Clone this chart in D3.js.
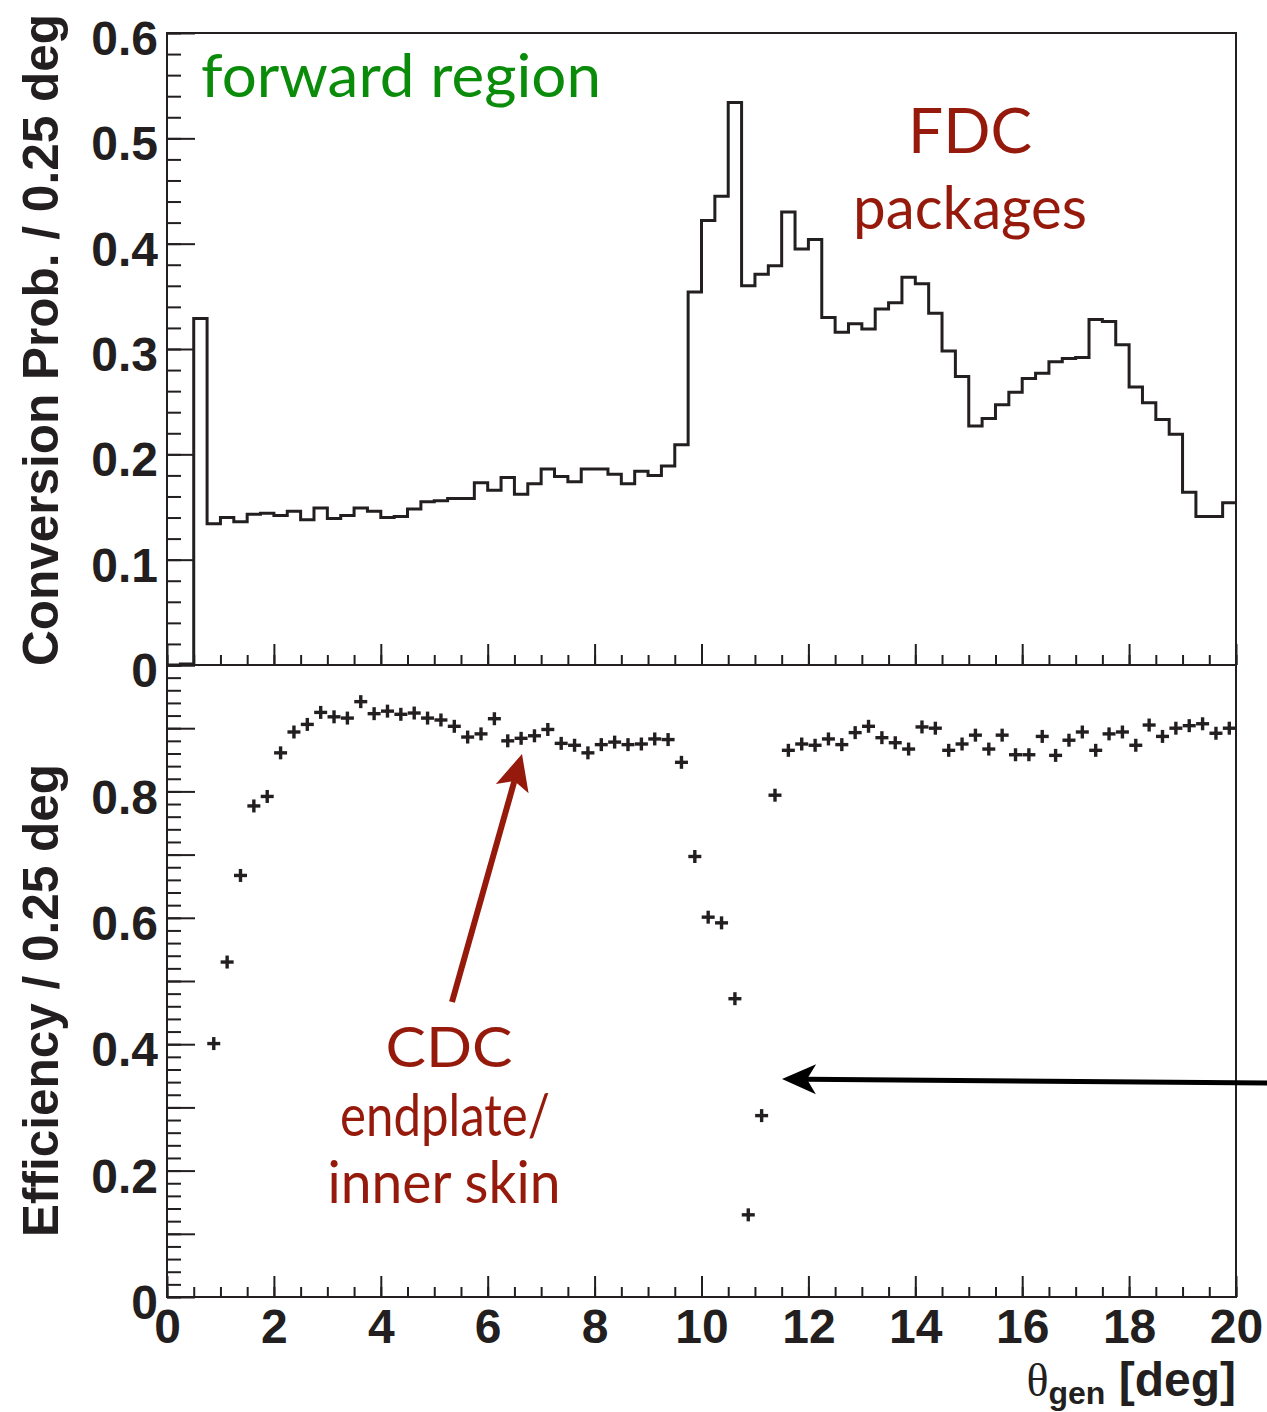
<!DOCTYPE html>
<html><head><meta charset="utf-8">
<script src="https://cdn.jsdelivr.net/npm/d3@7"></script>
<style>body{margin:0;background:#fff}</style>
</head><body>
<svg id="chart" width="1267" height="1412"></svg>
<script>
// ---- data (bin width 0.25 deg, 80 bins from 0 to 20) ----
const binEdges0 = 0, binWidth = 0.25;
const convProb = [
  0.000, 0.001, 0.329, 0.134, 0.140, 0.136, 0.143, 0.144,
  0.142, 0.146, 0.138, 0.149, 0.139, 0.142, 0.149, 0.146,
  0.140, 0.141, 0.148, 0.155, 0.156, 0.158, 0.158, 0.173,
  0.166, 0.178, 0.162, 0.172, 0.186, 0.179, 0.174, 0.186,
  0.186, 0.181, 0.172, 0.184, 0.180, 0.189, 0.209, 0.354,
  0.422, 0.445, 0.534, 0.360, 0.371, 0.379, 0.430, 0.395,
  0.404, 0.330, 0.316, 0.324, 0.319, 0.338, 0.344, 0.368,
  0.362, 0.334, 0.298, 0.274, 0.227, 0.234, 0.247, 0.259,
  0.272, 0.277, 0.288, 0.291, 0.292, 0.328, 0.326, 0.304,
  0.264, 0.249, 0.233, 0.219, 0.164, 0.141, 0.141, 0.154
];
const efficiency = [
  null, null, null, 0.401, 0.530, 0.667, 0.777, 0.792,
  0.861, 0.894, 0.906, 0.925, 0.918, 0.916, 0.942, 0.923,
  0.927, 0.922, 0.924, 0.916, 0.913, 0.903, 0.886, 0.891,
  0.915, 0.880, 0.884, 0.888, 0.898, 0.876, 0.873, 0.861,
  0.874, 0.878, 0.874, 0.875, 0.883, 0.882, 0.846, 0.697,
  0.601, 0.592, 0.472, 0.130, 0.287, 0.794, 0.865, 0.875,
  0.873, 0.883, 0.874, 0.893, 0.903, 0.885, 0.877, 0.867,
  0.902, 0.900, 0.865, 0.875, 0.889, 0.867, 0.889, 0.858,
  0.858, 0.887, 0.857, 0.881, 0.894, 0.865, 0.891, 0.894,
  0.873, 0.905, 0.887, 0.900, 0.904, 0.907, 0.892, 0.900
];
const xTickLabels = [0, 2, 4, 6, 8, 10, 12, 14, 16, 18, 20];
const topYTickLabels = [0, 0.1, 0.2, 0.3, 0.4, 0.5, 0.6];
const botYTickLabels = [0, 0.2, 0.4, 0.6, 0.8];

// ---- layout ----
const svg = d3.select("#chart");
const L = 167, R = 1236, T = 33, M = 665, B = 1297;
const x = d3.scaleLinear().domain([0, 20]).range([L, R]);
const yTop = d3.scaleLinear().domain([0, 0.6]).range([M, T]);
const yBot = d3.scaleLinear().domain([0, 1]).range([B, M]);
const ink = "#231f20";
const red = "#961a0c";
const green = "#0a8c0a";
const tickFont = "'Liberation Sans', Arial, Helvetica, sans-serif";
const annFont = "Lato, 'Open Sans', sans-serif";

// frames
svg.append("rect").attr("x", L).attr("y", T).attr("width", R - L).attr("height", M - T)
  .attr("fill", "none").attr("stroke", ink).attr("stroke-width", 2);
svg.append("rect").attr("x", L).attr("y", M).attr("width", R - L).attr("height", B - M)
  .attr("fill", "none").attr("stroke", ink).attr("stroke-width", 2);

function styleAxis(g) {
  g.select(".domain").remove();
  g.selectAll("line").attr("stroke", ink).attr("stroke-width", 2);
  g.selectAll("text").attr("font-family", tickFont).attr("font-weight", "bold")
    .attr("font-size", 48).attr("fill", ink);
}
const range = (a, b, s) => d3.range(Math.round(a / s), Math.round(b / s) + 1).map(v => +(v * s).toFixed(4));

// top panel y axis
svg.append("g").attr("transform", `translate(${L},0)`)
  .call(d3.axisLeft(yTop).tickValues(range(0, 0.6, 0.02)).tickSize(-14).tickFormat("")).call(styleAxis);
svg.append("g").attr("transform", `translate(${L},0)`)
  .call(d3.axisLeft(yTop).tickValues(topYTickLabels).tickSize(-28).tickPadding(9)
    .tickFormat(d => d === 0 ? "0" : d3.format(".1f")(d))).call(styleAxis)
  .selectAll("text").attr("dy", "0.45em");
// bottom panel y axis
svg.append("g").attr("transform", `translate(${L},0)`)
  .call(d3.axisLeft(yBot).tickValues(range(0, 1, 0.02)).tickSize(-14).tickFormat("")).call(styleAxis);
svg.append("g").attr("transform", `translate(${L},0)`)
  .call(d3.axisLeft(yBot).tickValues(range(0, 1, 0.1)).tickSize(-28).tickFormat("")).call(styleAxis);
svg.append("g").attr("transform", `translate(${L},0)`)
  .call(d3.axisLeft(yBot).tickValues(botYTickLabels).tickSize(0).tickPadding(9)
    .tickFormat(d => d === 0 ? "0" : d3.format(".1f")(d))).call(styleAxis)
  .selectAll("text").attr("dy", "0.45em");

// x axes
[M, B].forEach(yy => {
  svg.append("g").attr("transform", `translate(0,${yy})`)
    .call(d3.axisBottom(x).tickValues(range(0, 20, 0.5)).tickSize(-10).tickFormat("")).call(styleAxis);
  svg.append("g").attr("transform", `translate(0,${yy})`)
    .call(d3.axisBottom(x).tickValues(xTickLabels).tickSize(-21).tickFormat("")).call(styleAxis);
});
svg.append("g").attr("transform", `translate(0,${B})`)
  .call(d3.axisBottom(x).tickValues(xTickLabels).tickSize(0).tickPadding(12).tickFormat(d3.format("d")))
  .call(styleAxis);

// histogram
const stepPts = [];
convProb.forEach((v, i) => {
  stepPts.push([binEdges0 + i * binWidth, v]);
  stepPts.push([binEdges0 + (i + 1) * binWidth, v]);
});
svg.append("path").datum(stepPts)
  .attr("d", d3.line().x(d => x(d[0])).y(d => yTop(d[1])))
  .attr("fill", "none").attr("stroke", ink).attr("stroke-width", 3).attr("stroke-linejoin", "miter");

// efficiency markers
const pts = efficiency.map((v, i) => ({ c: binEdges0 + (i + 0.5) * binWidth, v })).filter(d => d.v !== null);
const mk = svg.append("g").attr("stroke", ink).attr("stroke-width", 3.4);
pts.forEach(d => {
  const cx = x(d.c), cy = yBot(d.v);
  mk.append("line").attr("x1", cx - 6.5).attr("x2", cx + 6.5).attr("y1", cy).attr("y2", cy);
  mk.append("line").attr("x1", cx).attr("x2", cx).attr("y1", cy - 6.5).attr("y2", cy + 6.5);
});

// axis titles
svg.append("text").attr("transform", "translate(58,666) rotate(-90)")
  .attr("font-family", tickFont).attr("font-weight", "bold").attr("font-size", 50).attr("fill", ink)
  .attr("textLength", 652).attr("lengthAdjust", "spacingAndGlyphs")
  .text("Conversion Prob. / 0.25 deg");
svg.append("text").attr("transform", "translate(58,1237) rotate(-90)")
  .attr("font-family", tickFont).attr("font-weight", "bold").attr("font-size", 50).attr("fill", ink)
  .attr("textLength", 473).attr("lengthAdjust", "spacingAndGlyphs")
  .text("Efficiency / 0.25 deg");
const xt = svg.append("text").attr("x", 1236).attr("y", 1396).attr("text-anchor", "end").attr("fill", ink);
xt.append("tspan").attr("font-family", "'Liberation Serif', 'DejaVu Serif', serif").attr("font-size", 46).text("θ");
xt.append("tspan").attr("font-family", tickFont).attr("font-weight", "bold").attr("font-size", 32).attr("dy", 8).text("gen");
xt.append("tspan").attr("font-family", tickFont).attr("font-weight", "bold").attr("font-size", 48).attr("dy", -8).text(" [deg]");

// annotations
function ann(txt, cx, by, size, color, len) {
  svg.append("text").attr("x", cx).attr("y", by).attr("text-anchor", "middle")
    .attr("font-family", annFont).attr("font-size", size).attr("fill", color)
    .attr("textLength", len).attr("lengthAdjust", "spacingAndGlyphs").text(txt);
}
ann("forward region", 401, 97, 60, green, 400);
ann("FDC", 970, 153, 62, red, 124);
ann("packages", 970, 229, 60, red, 234);
ann("CDC", 449, 1067, 57, red, 127);
ann("endplate/", 445, 1136, 58, red, 210);
ann("inner skin", 444, 1203, 58, red, 233);

// arrows
function arrow(x1, y1, x2, y2, color, w, hl, hw, notch) {
  const ang = Math.atan2(y2 - y1, x2 - x1);
  const ux = Math.cos(ang), uy = Math.sin(ang), px = -uy, py = ux;
  const bx = x2 - ux * hl, by = y2 - uy * hl;
  const nx = x2 - ux * (hl - notch), ny = y2 - uy * (hl - notch);
  svg.append("line").attr("x1", x1).attr("y1", y1).attr("x2", nx).attr("y2", ny)
    .attr("stroke", color).attr("stroke-width", w);
  svg.append("path").attr("d",
    `M${x2},${y2} L${bx + px * hw},${by + py * hw} L${nx},${ny} L${bx - px * hw},${by - py * hw} Z`)
    .attr("fill", color);
}
arrow(452, 1002, 522, 754, red, 6, 36, 17, 8);
arrow(1270, 1083, 782, 1079, "#000", 5, 34, 15, 9);
</script>
</body></html>
